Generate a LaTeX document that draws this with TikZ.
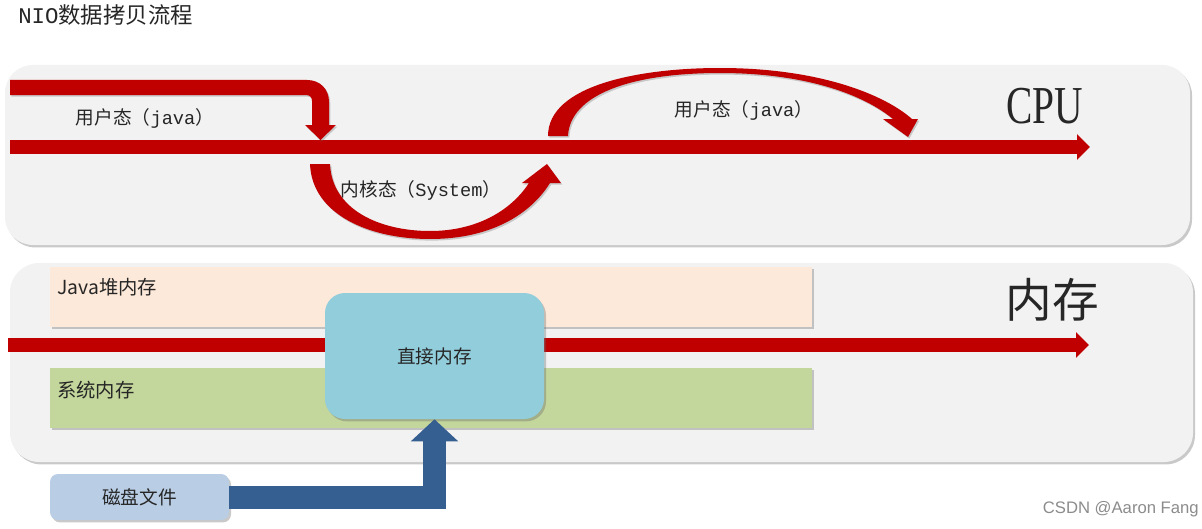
\documentclass[tikz,border=0pt]{standalone}
\usepackage{fontspec}
\setmainfont{Noto Sans CJK SC}
\setmonofont{Liberation Mono}
\newfontfamily\serifcpu{Liberation Serif}
\newfontfamily\wmfont{Liberation Sans}
\usetikzlibrary{arrows.meta,shadows}
\definecolor{arrowred}{HTML}{C00000}
\definecolor{panelgray}{HTML}{F2F2F2}
\definecolor{heapfill}{HTML}{FDE9D9}
\definecolor{sysfill}{HTML}{C3D69B}
\definecolor{directfill}{HTML}{92CDDC}
\definecolor{diskfill}{HTML}{B9CDE5}
\definecolor{bluearr}{HTML}{365F91}
\definecolor{textgray}{HTML}{262626}
\begin{document}
\begin{tikzpicture}[x=0.75pt,y=-0.75pt,
  shadowed/.style={drop shadow={shadow xshift=1.5pt,shadow yshift=-1.8pt,opacity=0.35,fill=black!60}},
  panel/.style={fill=panelgray, rounded corners=21pt, shadowed, inner sep=0pt},
  flatbox/.style={shadowed, inner sep=0pt},
  lbl/.style={text=textgray, inner sep=0pt, font=\fontsize{14pt}{16pt}\selectfont},
  mainarrow/.style={draw=arrowred, line width=10.5pt, -{Triangle[width=18.75pt,length=9.75pt]}},
  bluearrow/.style={draw=bluearr, line width=17.25pt, -{Triangle[width=34.5pt,length=16.5pt]}},
  curvearrow/.style={fill=arrowred, drop shadow={shadow xshift=1pt,shadow yshift=-1.2pt,opacity=0.3,fill=black!60}}
]
\useasboundingbox[fill=white] (0,0) rectangle (1202,528);

% title
\node[lbl, anchor=west, font=\fontsize{16.8pt}{18pt}\selectfont] (title) at (18,15) {{\ttfamily NIO}数据拷贝流程};

% ---------- CPU panel ----------
\node[panel, minimum width=888.75pt, minimum height=135pt] (cpupanel) at (597.5,155) {};

% main CPU arrow
\coordinate (cpuS) at (10,147);
\coordinate (cpuE) at (1090,147);
\draw[mainarrow] (cpuS) -- (cpuE);

% bent arrow (user -> kernel)
\fill[curvearrow] (10,80) -- (307,80) .. controls (320,80) and (329,89) .. (329,102)
  -- (329,125) -- (336,125) -- (320.5,140) -- (305,125) -- (312,125) -- (312,101)
  .. controls (312,97.5) and (310,95) .. (306,95) -- (10,95) -- cycle;

% kernel curved arrow
\fill[curvearrow] (310,164) .. controls (312,215) and (370,239) .. (430,239)
  .. controls (490,239) and (530,215) .. (550,183)
  -- (561,183) -- (547,164) -- (522,183) -- (529,183)
  .. controls (510,212) and (475,231) .. (430,231)
  .. controls (380,231) and (332,210) .. (330,164) -- cycle;

% user curved arrow
\fill[curvearrow] (548,136) .. controls (548,85) and (640,68) .. (720,68)
  .. controls (820,68) and (885,95) .. (912,119)
  -- (918,119) -- (908,137) -- (883,119) -- (893,119)
  .. controls (860,92) and (800,73) .. (720,73)
  .. controls (630,73) and (570,95) .. (568,136) -- cycle;

\node[lbl] (user1) at (145,118) {用户态（{\ttfamily java}）};
\node[lbl] (kernel) at (421,190) {内核态（{\ttfamily System}）};
\node[lbl] (user2) at (744,110) {用户态（{\ttfamily java}）};
\node[text=textgray, inner sep=0pt] (cpu) at (1045,106)
  {\scalebox{0.74}[1]{\fontsize{40pt}{44pt}\serifcpu CPU}};

% ---------- memory panel ----------
\node[panel, rounded corners=22pt, minimum width=887.25pt, minimum height=149.25pt] (mempanel) at (601.5,362.5) {};

\node[flatbox, fill=heapfill, minimum width=571.5pt, minimum height=45pt] (heap) at (431,297) {};
\node[flatbox, fill=sysfill, minimum width=571.5pt, minimum height=45pt] (sys) at (431,398) {};
\node[lbl, anchor=west, font=\fontsize{14.5pt}{16pt}\selectfont] (heaplbl) at (57,287) {Java堆内存};
\node[lbl, anchor=west, font=\fontsize{14.5pt}{16pt}\selectfont] (syslbl) at (57,390) {系统内存};

\coordinate (memS) at (8,345);
\coordinate (memE) at (1089,345);
\draw[mainarrow] (memS) -- (memE);

\node[flatbox, fill=directfill, rounded corners=15pt, minimum width=164.25pt, minimum height=94.5pt, lbl] (direct) at (434.5,356) {直接内存};

\node[text=textgray, inner sep=0pt, font=\fontsize{35pt}{38pt}\selectfont] (mem) at (1052,300) {内存};

% ---------- disk ----------
\node[flatbox, fill=diskfill, rounded corners=6pt, minimum width=134.25pt, minimum height=34.5pt, lbl] (disk) at (139.5,497) {磁盘文件};
\draw[bluearrow] (disk.east) -| (direct.south);

% watermark
\node[anchor=east, inner sep=0pt, text=black!45, font=\fontsize{12.5pt}{14pt}\wmfont] (wm) at (1199,509) {CSDN @Aaron Fang};
\end{tikzpicture}
\end{document}
